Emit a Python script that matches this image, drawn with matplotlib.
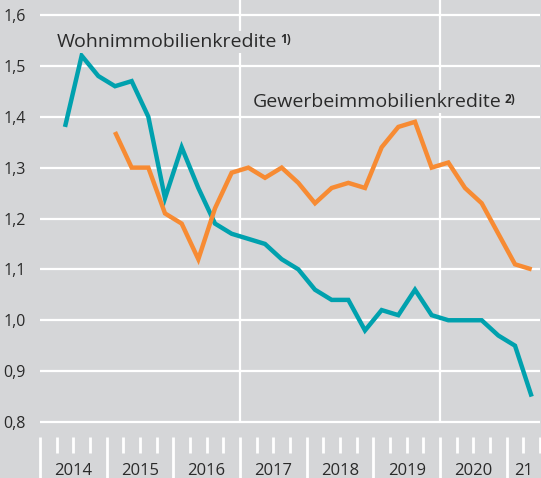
import matplotlib
matplotlib.use("Agg")
import matplotlib.pyplot as plt
import numpy as np
from matplotlib.ticker import FixedLocator, NullFormatter

plt.rcParams["font.family"] = ["Open Sans", "DejaVu Sans"]

BG = "#d5d6d8"
TEAL = "#00a1ae"
ORANGE = "#f78b33"
TEXT = "#2a2a2a"

# quarterly values, first quarter of each series
wohn_start = (2014, 2)
wohn_values = [
    1.38, 1.52, 1.48,
    1.46, 1.47, 1.40, 1.24,
    1.34, 1.26, 1.19, 1.17,
    1.16, 1.15, 1.12, 1.10,
    1.06, 1.04, 1.04, 0.98,
    1.02, 1.01, 1.06, 1.01,
    1.00, 1.00, 1.00, 0.97,
    0.95, 0.85,
]
gewerbe_start = (2015, 1)
gewerbe_values = [
    1.37, 1.30, 1.30, 1.21,
    1.19, 1.12, 1.22, 1.29,
    1.30, 1.28, 1.30, 1.27,
    1.23, 1.26, 1.27, 1.26,
    1.34, 1.38, 1.39, 1.30,
    1.31, 1.26, 1.23, 1.17,
    1.11, 1.10,
]
year_labels = ["2014", "2015", "2016", "2017", "2018", "2019", "2020", "21"]
y_ticks = [0.8, 0.9, 1.0, 1.1, 1.2, 1.3, 1.4, 1.5, 1.6]


def quarter_x(start, n):
    year, q = start
    first = year + (q - 1) / 4.0
    return first + 0.125 + np.arange(n) / 4.0


fig = plt.figure(figsize=(5.41, 4.78), dpi=100, facecolor=BG)
ax = fig.add_axes([40 / 541, 41 / 478, 500 / 541, 437 / 478])
ax.set_facecolor(BG)
for s in ax.spines.values():
    s.set_visible(False)

x0, x1 = 2014.0, 2021.5
ax.set_xlim(x0, x1)
ax.set_ylim(0.8 - 15 / 509, 1.6 + 15 / 509)

# grid
for y in y_ticks:
    ax.axhline(y, color="white", lw=1.6, zorder=1)
ax.vlines([2017, 2020], 0.8, 1.7, color="white", lw=1.6, zorder=1)

ax.plot(quarter_x(wohn_start, len(wohn_values)), wohn_values, color=TEAL,
        lw=3.2, solid_joinstyle="miter", solid_capstyle="butt", zorder=3)
ax.plot(quarter_x(gewerbe_start, len(gewerbe_values)), gewerbe_values, color=ORANGE,
        lw=3.2, solid_joinstyle="miter", solid_capstyle="butt", zorder=4)

# y axis
ax.set_yticks(y_ticks)
ax.set_yticklabels([f"{v:.1f}".replace(".", ",") for v in y_ticks])
ax.tick_params(axis="y", length=0, pad=10, labelsize=11.5, labelcolor=TEXT)

# x axis ticks
years = np.arange(2014, 2022)
ax.xaxis.set_major_locator(FixedLocator(years))
ax.xaxis.set_minor_locator(FixedLocator(np.arange(x0, x1 + 0.01, 0.25)))
ax.xaxis.set_major_formatter(NullFormatter())
ax.tick_params(axis="x", which="major", direction="out", length=30, width=2, color="white")
ax.tick_params(axis="x", which="minor", direction="out", length=11.5, width=2, color="white")

trans = ax.get_xaxis_transform()
for yr, lab in zip(years, year_labels):
    xc = yr + 0.5 if yr < 2021 else yr + 0.25
    ax.text(xc, -38 / 437, lab, transform=trans, ha="center", va="baseline",
            fontsize=12, color=TEXT, clip_on=False)

# series labels
box = dict(facecolor=BG, edgecolor="none", pad=1.5)
t1 = ax.text(2014.255, 1.537, "Wohnimmobilienkredite", fontsize=14, color=TEXT,
             ha="left", va="baseline", bbox=box, zorder=5)
ax.annotate("1)", xy=(1, 1), xycoords=t1, xytext=(2, 0), textcoords="offset points",
            ha="left", va="top", fontsize=8.5, fontweight="bold", color=TEXT, zorder=6)
t2 = ax.text(2017.19, 1.420, "Gewerbeimmobilienkredite", fontsize=14, color=TEXT,
             ha="left", va="baseline", bbox=box, zorder=5)
ax.annotate("2)", xy=(1, 1), xycoords=t2, xytext=(2, 0), textcoords="offset points",
            ha="left", va="top", fontsize=8.5, fontweight="bold", color=TEXT, zorder=6)

fig.savefig("out.png", dpi=100, facecolor=BG)
